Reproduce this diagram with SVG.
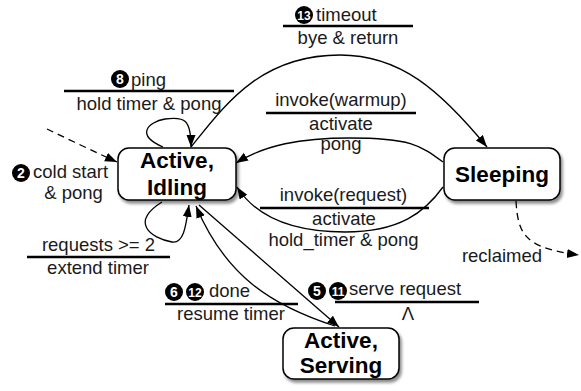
<svg xmlns="http://www.w3.org/2000/svg" width="581" height="391" viewBox="0 0 581 391">
<defs>
<marker id="ah" markerUnits="userSpaceOnUse" markerWidth="13" markerHeight="10" refX="12" refY="4.5" orient="auto">
<path d="M0,0 L12,4.5 L0,9 z" fill="#000"/>
</marker>
<filter id="sh" x="-10%" y="-10%" width="130%" height="140%">
<feDropShadow dx="2" dy="3" stdDeviation="1.5" flood-color="#000" flood-opacity="0.45"/>
</filter>
</defs>
<style>
.node rect{fill:#fff;stroke:#000;stroke-width:1.5;filter:url(#sh)}
.node text{font-family:"Liberation Sans",Arial,sans-serif;font-weight:bold;font-size:22.5px;fill:#000;text-anchor:middle}
.e{fill:none;stroke:#000;stroke-width:1.3;marker-end:url(#ah)}
.d{stroke-dasharray:7,5}
.lbl{font-family:"Liberation Sans",Arial,sans-serif;font-size:18.5px;fill:#1a1a1a}
.c{text-anchor:middle}
.bar{stroke:#000;stroke-width:2.5}
.num circle{fill:#000}
.num text{font-family:"Liberation Sans",Arial,sans-serif;font-weight:bold;fill:#fff;text-anchor:middle}
</style>

<g id="connectors">
<path class="e d" d="M47,129 C70,140 95,152 117,162"/>
<path class="e" d="M163,147 C135,135 148,122 165,119 C185,116 191,120 191,147"/>
<path class="e" d="M162,202 C130,222 150,238 172,242 C184,244 186,225 189,205"/>
<path class="e" d="M191,147 C225,105 260,55 340,55 C400,55 440,90 487,147"/>
<path class="e" d="M443,162 C420,145 410,138 350,138 C300,138 265,145 236,163"/>
<path class="e" d="M443,187 C425,212 400,232 345,232 C290,232 255,215 237,187"/>
<path class="e" d="M335,326 C270,305 225,275 196,206"/>
<path class="e" d="M199,205 L339,327"/>
<path class="e d" d="M516,201 C518,235 525,248 579,255"/>
</g>

<g id="labels">
<g class="num"><circle cx="120" cy="79" r="9"/><text x="120" y="84" font-size="14">8</text></g>
<text class="lbl" x="131" y="86">ping</text>
<line class="bar" x1="64" y1="91" x2="234" y2="91"/>
<text class="lbl c" x="149" y="110">hold timer &amp; pong</text>

<g class="num"><circle cx="304" cy="15" r="9"/><text x="304" y="19.5" font-size="12">13</text></g>
<text class="lbl" x="316" y="21">timeout</text>
<line class="bar" x1="283" y1="26" x2="413" y2="26"/>
<text class="lbl c" x="348" y="44">bye &amp; return</text>

<text class="lbl c" x="341" y="106">invoke(warmup)</text>
<line class="bar" x1="266" y1="113" x2="416" y2="113"/>
<text class="lbl c" x="341" y="130">activate</text>
<text class="lbl c" x="341" y="150">pong</text>

<text class="lbl c" x="343.5" y="200.5">invoke(request)</text>
<line class="bar" x1="260" y1="208" x2="429" y2="208"/>
<text class="lbl c" x="344" y="225">activate</text>
<text class="lbl c" x="343.5" y="246">hold_timer &amp; pong</text>

<g class="num"><circle cx="21" cy="173" r="9"/><text x="21" y="178" font-size="14">2</text></g>
<text class="lbl" x="33" y="178">cold start</text>
<text class="lbl c" x="73.5" y="198.5">&amp; pong</text>

<text class="lbl c" x="98.5" y="250.5">requests &gt;= 2</text>
<line class="bar" x1="27" y1="257" x2="170" y2="257"/>
<text class="lbl c" x="98" y="274">extend timer</text>

<g class="num"><circle cx="174" cy="292" r="9"/><text x="174" y="297" font-size="14">6</text></g>
<g class="num"><circle cx="195" cy="292" r="9"/><text x="195" y="296.5" font-size="12">12</text></g>
<text class="lbl" x="209" y="297">done</text>
<line class="bar" x1="165" y1="304" x2="298" y2="304"/>
<text class="lbl c" x="231" y="320">resume timer</text>

<g class="num"><circle cx="317" cy="291" r="9"/><text x="317" y="296" font-size="14">5</text></g>
<g class="num"><circle cx="338" cy="291" r="9"/><text x="338" y="295.5" font-size="12">11</text></g>
<text class="lbl" x="349" y="295">serve request</text>
<line class="bar" x1="335" y1="302" x2="479" y2="302"/>
<text class="lbl c" x="408" y="320">Λ</text>

<text class="lbl c" x="502" y="262">reclaimed</text>
</g>

<g id="node-idling" class="node">
<rect x="118" y="148" width="118" height="52" rx="11"/>
<text x="177" y="168">Active,</text>
<text x="177" y="195">Idling</text>
</g>
<g id="node-sleeping" class="node">
<rect x="444" y="148" width="116" height="52" rx="11"/>
<text x="502" y="182">Sleeping</text>
</g>
<g id="node-serving" class="node">
<rect x="283" y="328" width="116" height="51" rx="11"/>
<text x="341" y="348">Active,</text>
<text x="341" y="373">Serving</text>
</g>
</svg>
